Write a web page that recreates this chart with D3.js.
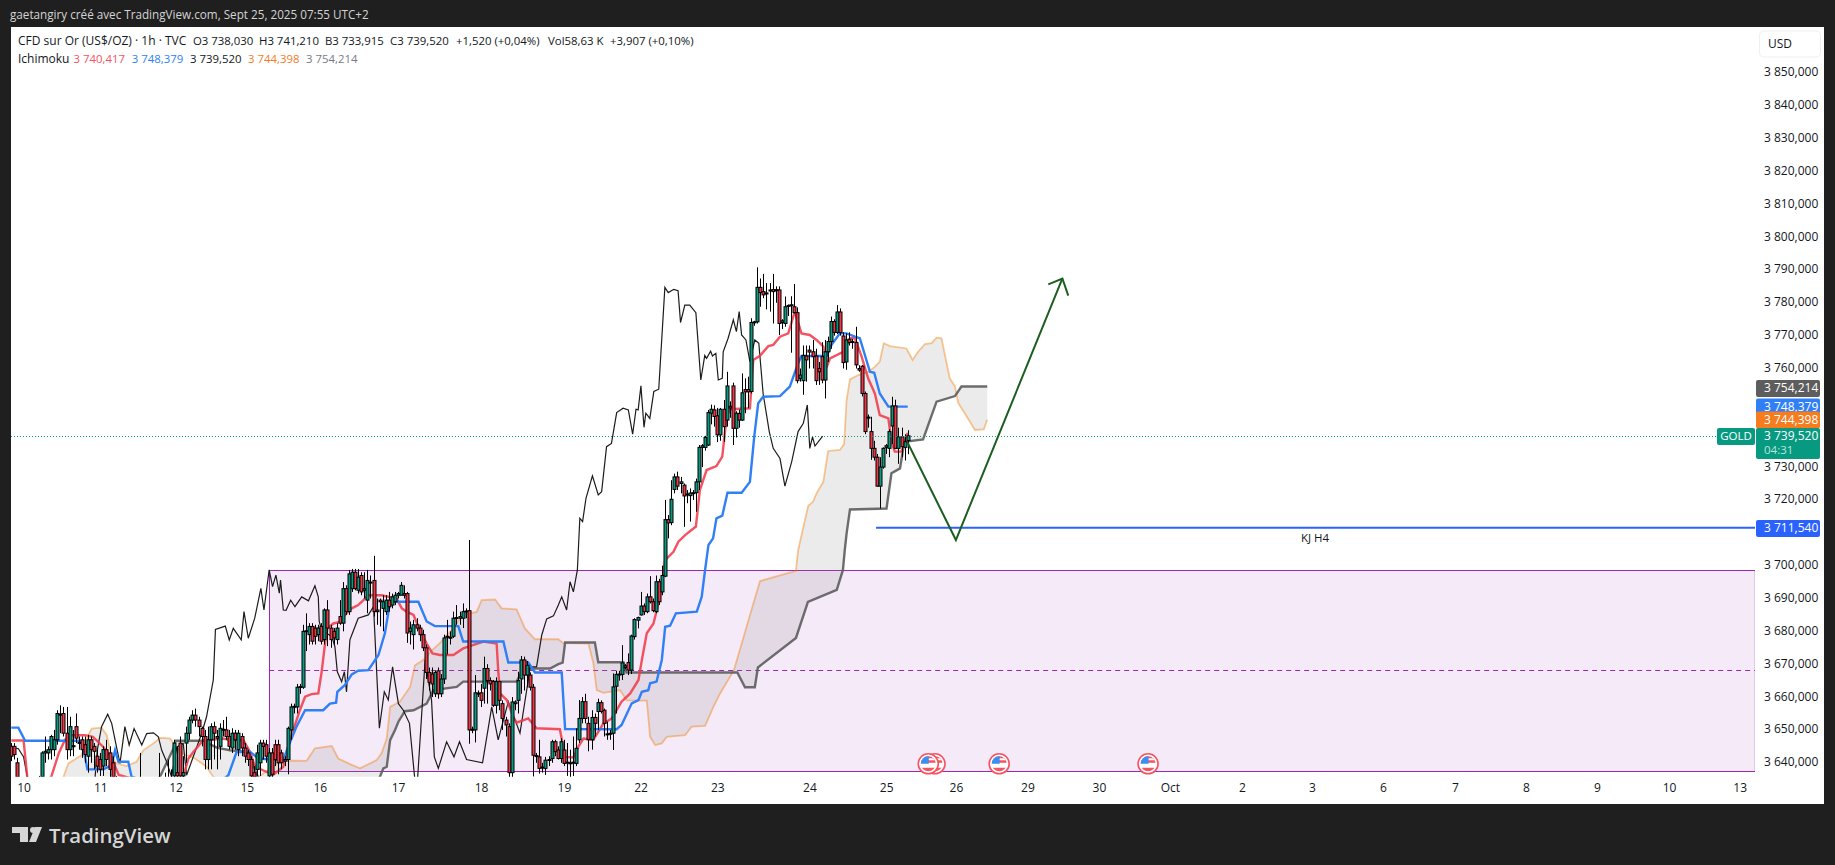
<!DOCTYPE html>
<html>
<head>
<meta charset="utf-8">
<title>CFD sur Or</title>
<script src="https://cdn.jsdelivr.net/npm/d3@7"></script>
<style>
  html, body { margin: 0; padding: 0; background: #1f1f1f; }
  svg { display: block; }
  text { font-family: "Open Sans", "Noto Sans", sans-serif; font-size: 12px; }
</style>
</head>
<body>
<svg id="chart"></svg>
<script>
// axis content, 3710 3740 3750 sit behind the price badges
const priceTicks = [3640, 3650, 3660, 3670, 3680, 3690, 3700, 3720, 3730, 3760, 3770, 3780, 3790, 3800, 3810, 3820, 3830, 3840, 3850];
const dayBars = [4, 29, 53.5, 76.7, 100.5, 126, 153, 180, 205, 230, 260, 285, 307.7, 331, 354.3, 377.4, 400.9, 423.7, 446.8, 470.3, 493.4, 516.5, 540, 563];
const dayLabels = ["10", "11", "12", "15", "16", "17", "18", "19", "22", "23", "24", "25", "26", "29", "30", "Oct", "2", "3", "6", "7", "8", "9", "10", "13"];

// hourly candles, open high low close
const ohlc = [
  [3645,3646,3640.5,3642],[3645,3646,3641,3642.5],[3640,3641.5,3633,3635],[3632,3634,3628,3630],[3630,3632,3626,3628],
  [3628,3630,3625,3629],[3629,3631,3627,3630],[3630,3632,3628,3631],[3631,3633,3629,3632],[3633,3636,3630,3635],
  // 10
  [3635,3643.5,3633,3643],[3643,3648,3640,3643.5],[3643,3645,3641,3644],[3644,3648.5,3641,3648],[3644,3650,3642,3647],
  [3647,3656,3645.5,3655],[3654.8,3657.5,3649,3654.5],[3655,3657,3648,3649],[3649,3657,3641,3644],[3644,3654,3642,3651],
  // 20
  [3645,3650,3642,3645.2],[3651,3655,3646,3647.5],[3646,3648,3644,3646.2],[3647,3648,3641.5,3644],[3645.5,3648,3640,3642.5],
  [3642,3648.5,3637,3647],[3647,3648,3640,3644],[3645,3646,3638,3643.5],[3642,3644,3637,3639],[3641,3643,3636,3638],
  // 30
  [3639,3645,3636,3644],[3644,3647,3639,3641],[3643,3645,3635,3638],[3640,3642,3632,3635],[3634,3636,3630,3632],
  [3632,3634,3629,3633],[3633,3635,3630,3631],[3631,3633,3628,3632],[3632,3634,3629,3630],[3630,3632,3627,3631],
  // 40
  [3631,3633,3628,3630],[3630,3632,3627,3631],[3633,3643,3630,3633.5],[3631,3633,3628,3630],[3630,3632,3628,3631],
  [3631,3633,3629,3630],[3630,3632,3628,3631],[3631,3634,3629,3633],[3633,3643,3631,3633.5],[3633,3635,3630,3632],
  // 50
  [3634,3637,3631,3635],[3635,3641,3632,3634],[3635,3638,3632,3635.5],[3636,3647,3634,3646],[3637,3645,3632,3636],
  [3646,3648,3633,3636],[3636,3642,3633,3637],[3646,3651,3640,3649],[3649,3654,3647,3653],[3653,3656,3652,3654.5],
  // 60
  [3654.5,3656.5,3651,3653],[3653,3654,3648,3651],[3650.5,3651,3645,3648],[3648,3650,3638,3641],[3641,3651,3638,3647],
  [3647,3652,3638,3651],[3651,3652.5,3641,3649],[3648,3650,3638,3647.5],[3645,3652,3641,3650.5],[3650,3653,3648,3650.2],
  // 70
  [3650,3654,3647,3648],[3648,3650,3644,3645],[3644.5,3650.5,3643,3649],[3649,3650,3644,3647],[3644,3650,3642,3649],
  [3648,3649,3642,3644.5],[3644.5,3646,3640,3642],[3643,3644,3639,3641],[3641,3642,3632,3636],[3637,3639,3630,3635],
  // 80
  [3638,3645.5,3636,3643],[3640,3647,3636,3646],[3646,3647,3641,3645],[3645.5,3647,3640,3642],[3636,3644.5,3635,3643],
  [3643,3644.5,3634,3636.5],[3645.5,3647,3639,3641],[3645.5,3647,3636.5,3640],[3643,3644,3638,3640],[3641,3642,3639,3640.5],
  // 90
  [3641,3651,3636.5,3650.5],[3650,3658,3647,3657],[3657,3658,3655,3657.2],[3657,3664,3655,3663],[3663,3664,3661,3663.2],
  [3663,3682,3662.5,3680],[3680,3685.5,3674,3680.2],[3679,3682.5,3676,3681.5],[3681.5,3682.5,3676,3677],[3681,3682,3676,3678.5],
  // 100
  [3679,3682,3677,3681],[3681.5,3682.5,3676,3677],[3677.5,3687,3676,3686.5],[3686.5,3689.5,3675.5,3681],[3681,3682,3675,3677.5],
  [3680,3681,3676,3678],[3677.5,3682.5,3676,3681],[3684.5,3689.5,3682,3682.5],[3682.5,3695,3680,3693],[3693,3694,3685,3686],
  // 110
  [3686,3698.7,3685,3697.5],[3693,3699,3692,3698],[3698,3699,3692.5,3693],[3692.5,3699,3691.5,3696.5],[3697,3698,3691,3692],
  [3692.5,3698,3690,3693],[3689.5,3698.7,3685.5,3695.5],[3695,3697,3690,3694.8],[3695.5,3703,3684.5,3686],[3686.5,3690,3682,3686],
  // 120
  [3689.5,3690,3681.5,3689],[3687,3691,3680,3689],[3686,3691,3685,3689.5],[3689.5,3692,3686,3687.5],[3688,3691.5,3687,3690.5],
  [3689,3692,3688,3691],[3691,3692,3690,3691.5],[3691,3695,3691,3694],[3691.5,3694,3690,3691],[3691.5,3692,3676.5,3679.5],
  // 130
  [3680,3683,3676,3681],[3679,3683.5,3674.5,3682],[3682,3684,3680,3681],[3681,3682,3677,3679],[3679,3680.5,3674,3675],
  [3675,3676,3665.5,3667.5],[3667.5,3669,3662,3664.5],[3667,3669,3660,3664],[3661,3668,3660,3667.5],[3668,3669,3659.5,3661],
  // 140
  [3661,3667,3660,3665.5],[3665.5,3679,3664,3678],[3678.5,3683.5,3673,3678.2],[3678,3680,3676,3678.2],[3678.5,3686,3678,3684],
  [3684,3688,3682,3684.2],[3684,3686,3682,3684.5],[3684,3688.5,3681,3686],[3686,3687,3684,3686.2],[3686.3,3707.8,3645.8,3650],
  // 150
  [3650,3651,3649,3650.2],[3650,3666.7,3646.2,3661.3],[3661,3662,3660,3661.2],[3661.3,3664,3657,3659],[3662.7,3672.3,3658,3668.7],
  [3668.7,3670,3658,3665],[3665,3666,3662,3664],[3664.7,3665.2,3657,3657.5],[3657.5,3666,3655,3664.7],[3664.7,3665,3656,3659],
  // 160
  [3658,3659,3650,3653.5],[3653,3654,3648,3651.5],[3651,3652,3633,3637],[3637,3660,3633,3658.5],[3658,3659,3656,3658.5],
  [3659,3667.7,3655,3665],[3665.5,3672.5,3661,3671.3],[3671.3,3672.3,3662,3666.7],[3666.7,3671,3663,3669.7],[3666.7,3667.5,3662,3663],
  // 170
  [3663,3664,3635.8,3642.3],[3642,3643,3640,3642.2],[3641.8,3647,3636.7,3638.3],[3638.5,3640,3637,3638.7],[3638.3,3641.8,3636.3,3640.8],
  [3640.8,3642,3639,3641],[3641.3,3647,3640,3646.4],[3646.4,3647,3642,3643.4],[3643.9,3645,3641,3641.3],[3641.3,3647.5,3640,3646.4],
  // 180
  [3643.9,3647,3639,3639.8],[3640,3646,3636,3640.2],[3640,3644,3635,3640],[3640,3648,3636,3640.2],[3639.8,3650.5,3639,3644.4],
  [3647,3659.1,3646,3653.5],[3653.5,3660,3652,3658.6],[3658.6,3661,3652,3653.5],[3652,3654,3643.5,3647],[3647,3656,3644,3653.8],
  // 190
  [3653.8,3655,3648,3652],[3655.6,3659.5,3650,3658.3],[3658.3,3659,3655,3655.6],[3656,3656.5,3648,3652],[3648.6,3652.5,3647,3648.8],
  [3648.8,3650,3647,3649],[3649,3667.2,3643.9,3663.1],[3663.3,3668,3655,3666.9],[3666.9,3668,3665,3667],[3666.9,3675.8,3665.2,3670.4],
  // 200
  [3669,3670,3668.5,3669.5],[3670.5,3673.3,3666.7,3668.2],[3668.2,3679,3667,3678.6],[3678.4,3684,3677.5,3683.6],[3683.4,3684.5,3680.9,3684.2],
  [3685,3692,3684.8,3687.7],[3687.7,3688.5,3685,3686],[3686,3691.5,3685.5,3690.5],[3690.5,3696.8,3688.5,3689],[3689,3690,3685.8,3686.3],
  // 210
  [3686,3697,3685.5,3695.1],[3695.1,3696,3688,3689],[3692,3700,3691,3697],[3696.8,3720,3696.5,3714],[3714,3715.4,3708.3,3713],
  [3713.1,3726,3712.3,3720.2],[3723.2,3728,3722,3727],[3727,3728.6,3723,3724.2],[3725,3727,3722,3725.5],[3724.5,3725,3711.8,3721.2],
  // 220
  [3721.5,3723,3719,3721.8],[3721.3,3723.5,3713.4,3722.1],[3722,3723,3720,3722.2],[3722.2,3726.5,3716.4,3725.5],[3725.5,3736.7,3723,3736],
  [3736,3737,3730,3736.5],[3736,3739.5,3735,3739],[3736.7,3747.4,3736.4,3746.6],[3746.4,3749,3743,3747.6],[3747.4,3748.8,3742.3,3745.4],
  // 230
  [3745.6,3748,3737.6,3739.8],[3739.8,3748,3738,3747.6],[3747.6,3750.4,3737.7,3742.3],[3744.3,3759,3742.3,3754.7],[3748,3750,3745,3748.5],
  [3754.7,3755.7,3736.7,3741.8],[3741.8,3747,3739,3746.4],[3746.3,3747.5,3742,3744.3],[3744.3,3758.5,3744,3752.6],[3753.6,3757,3746.4,3752.9],
  // 240
  [3753.6,3757.5,3747.9,3752.9],[3753,3775.3,3752.4,3774],[3774,3774.5,3773,3774.2],[3774.2,3790.8,3773.7,3784.7],[3784.7,3787.4,3778.8,3783.1],
  [3783.4,3788.8,3781.4,3782.4],[3783,3786,3778,3783],[3783.6,3786,3777.3,3783.9],[3784,3788.8,3773.7,3783.4],[3784,3785,3780,3783.9],
  // 250
  [3783.9,3785,3770.2,3773.7],[3774,3775,3772,3774.5],[3773.7,3781.9,3772.7,3778.8],[3779,3779.5,3776,3779.2],[3779.4,3782,3764.8,3779.3],
  [3778.8,3785.7,3776.7,3777],[3777,3778.6,3755.5,3756.3],[3757,3760,3756,3758],[3756.3,3767,3752,3764],[3763.8,3767,3756,3762.6],
  // 260
  [3765.6,3767,3760,3765],[3765.1,3768.7,3760,3763.6],[3763.8,3766,3755,3756.3],[3760,3762,3755,3759],[3763.6,3768,3755.5,3756.5],
  [3756.5,3768.7,3750.9,3765.1],[3765.1,3769.7,3762,3768.2],[3768.2,3775.8,3766,3774.3],[3774.3,3775,3770,3771],[3771,3779.3,3770.5,3777.2],
  // 270
  [3777.2,3778.3,3770,3770.9],[3769.9,3771,3760,3761.8],[3762,3770.7,3759.6,3768.7],[3768.9,3771,3767,3767.9],[3768,3769,3766,3768.2],
  [3767.9,3772.7,3760,3761.1],[3760,3761,3759,3759.5],[3760.7,3761,3751.5,3752.4],[3752.4,3753,3740,3740.8],[3745,3746,3742,3745.2],
  // 280
  [3740.8,3745.3,3732.2,3735.7],[3735.7,3738,3732,3733],[3733,3734,3724,3724.2],[3724.2,3733,3717.4,3730],[3730,3736,3729.5,3735.7],
  [3736,3737,3734,3736.5],[3735.7,3741.5,3733,3740.8],[3742.5,3751.4,3737,3748.6],[3748.6,3750.5,3735.5,3735.7],[3735.7,3742,3731,3739.2],
  // 290
  [3739.2,3742,3733,3736.2],[3736,3740,3732,3737.7],[3738.03,3741.21,3733.915,3739.52]
];

// ichimoku lines, [bar, price]
const tenkan = [[0,3646.8],[4,3646.8],[5.2,3635.7],[7,3630],[13,3635.7],[15.5,3643],[17.5,3647],[19.5,3648.4],[24,3648.4],[26.6,3647.9],[29.9,3644.9],[32.4,3642],[35,3636.3],[40,3635],[50,3630],[56,3635.7],[57.7,3641.3],[59.3,3643.3],[62.5,3646.9],[64.7,3646.9],[69,3647.4],[71.2,3646.9],[75.6,3646.9],[77.8,3643.3],[79.4,3638.8],[85.3,3636.3],[88.6,3638.8],[90.2,3644.9],[91.9,3650],[94,3656],[95.7,3660.1],[97.8,3660.9],[100,3661.1],[101.1,3667.7],[102.2,3676.3],[103,3680.9],[104.9,3682.4],[107.1,3682.9],[108.7,3685],[110.9,3687],[113,3688],[114.7,3689.5],[116.3,3691],[120.6,3691],[125.5,3690],[127.2,3687],[128.8,3686],[131,3685],[133.1,3680.4],[135.3,3676.3],[137.2,3673.3],[139.6,3672.8],[144,3672.8],[147.2,3674.8],[153.8,3676.9],[158.1,3676.3],[158.6,3668.2],[159.2,3661.1],[161.4,3659.1],[163.5,3654],[164.6,3652.2],[168.4,3653.5],[171.1,3650.5],[178.7,3650.2],[180.4,3641.8],[183.1,3641.6],[184.7,3644.9],[186.4,3647.4],[189.6,3647],[192.9,3652],[195.6,3653.5],[198.8,3658.6],[201.6,3661.1],[204.3,3665.2],[205.4,3671.3],[207,3679.4],[209.2,3682.4],[211.3,3690.6],[213,3701.7],[215.7,3704.2],[217.3,3707.3],[219.5,3709.3],[223,3711.9],[224.3,3723],[226.5,3729.1],[229.7,3730.3],[231.6,3733.2],[233,3745.3],[234.1,3747.6],[240.6,3747.9],[241.7,3762.6],[243.8,3763.8],[246.6,3766.8],[248.2,3767.2],[250.4,3769.7],[253.1,3770.7],[255.2,3777.3],[257.4,3770.7],[260.1,3770.2],[262.3,3768.7],[264.5,3766.7],[265.9,3761.1],[266.7,3763.1],[271,3765.1],[273.2,3769.2],[274.8,3769.2],[277,3763.6],[279.1,3757],[281.3,3752.4],[282.9,3745.8],[285.7,3744.8],[286.7,3737.7],[287.8,3734.7],[290,3734.7],[292,3740.4]];

const kijun = [[0,3650.7],[2.3,3650.7],[4.5,3646.7],[23,3646.7],[24.8,3638],[30,3638],[32.7,3639.3],[33.8,3643.8],[34.9,3640.3],[38.1,3640.3],[39.2,3635.7],[42,3635],[60,3628],[70.7,3636.2],[73.4,3643.3],[77.8,3643.3],[80.5,3641.3],[88.6,3640.8],[90.2,3644.9],[92.9,3651],[95.7,3656],[101.6,3656],[103.8,3658],[105.8,3658.3],[106.2,3661.6],[108.7,3663.7],[110.9,3666.9],[113,3668],[116.3,3668.2],[119.6,3672.8],[121.7,3679.4],[123.4,3689],[132.6,3689],[135.3,3683],[138,3681.6],[145.6,3681.6],[147.2,3676.9],[160.3,3676.9],[161.9,3670.5],[168.4,3670.5],[170.6,3667.5],[179.3,3667.5],[180.4,3650.3],[197.2,3650.2],[198.8,3651.5],[202.1,3658.1],[204.3,3659.1],[205.4,3661.6],[207.5,3662.1],[208.1,3664.2],[210.2,3664.7],[211.9,3671.3],[213,3681.4],[214.6,3681.7],[216.5,3685.5],[223.3,3686],[224.9,3690.5],[226,3698.7],[227.1,3706.3],[228.6,3708.3],[229.7,3714.4],[231.6,3715.2],[233.3,3722.2],[237.9,3722.2],[240.6,3725.5],[242,3739.2],[243.3,3749.4],[244.9,3751.4],[250.4,3751.6],[253.6,3754.5],[256.3,3761.6],[257.4,3763.8],[265.6,3763.8],[267.2,3767.2],[269.9,3770.7],[272.1,3770.7],[274.8,3769.7],[276.4,3769.2],[279.7,3759],[281.1,3758.7],[282.9,3752.4],[285.7,3748.4],[292,3748.4]];

const chikou = [[0.1,3644.8],[2.3,3644.3],[4,3641.8],[5.2,3635.7],[8,3628],[24,3628],[27.3,3635.7],[28,3643.8],[29.4,3651],[31.4,3654.8],[32.7,3652],[34.5,3643.8],[35.4,3639.8],[37,3651],[38.4,3645.4],[40,3650.4],[42.5,3645.4],[44.1,3648.9],[46.3,3649.1],[47.9,3647.9],[49,3643.8],[50.6,3640.3],[52.2,3635.7],[53.9,3644.8],[56,3645.9],[57.1,3636.2],[62,3648.9],[63.6,3654],[65.8,3665.2],[66.5,3680.6],[69.7,3681.6],[71,3677.4],[72.3,3680.9],[74.9,3677.4],[75.8,3686],[77.2,3677.9],[79.3,3684],[81.3,3693.1],[82.3,3686.5],[84,3698.7],[85.1,3693.6],[86.2,3697.1],[87.3,3691.6],[87.7,3695.6],[88.6,3686.5],[89.5,3686.4],[91,3689.5],[92.4,3687.5],[94.6,3690.5],[96.8,3689.3],[98.9,3693.9],[100,3690.5],[100.3,3683],[101.1,3680.4],[104.4,3678.4],[105.4,3675.4],[106.2,3667.7],[107.6,3664.7],[108.5,3667.7],[109.2,3661.6],[110.3,3677.4],[110.9,3678.9],[113,3684],[116.3,3685],[118,3687.5],[119.9,3650.5],[121.5,3661.6],[122.8,3659.1],[124.2,3669.2],[126.1,3658],[127.7,3656],[129.7,3652],[131.2,3637.3],[132,3630],[134.8,3671.3],[136.9,3659],[137.8,3641.8],[139.1,3638.3],[141.8,3646.4],[144.2,3641.8],[146,3646.4],[148.3,3641],[153.5,3640],[156.5,3657],[158.6,3647],[161.9,3658.6],[165.7,3649],[168.4,3665.2],[169,3669.2],[171.1,3669.2],[172.8,3678.9],[174.4,3683.8],[176.6,3684.7],[178.2,3688],[179.3,3690.5],[180.9,3686.5],[182,3695.1],[183.1,3692],[184.4,3698.7],[185.2,3714.4],[186.1,3713.4],[187.2,3720.5],[189.3,3727.3],[191.2,3721.5],[192.3,3722.5],[193.9,3736.2],[195.5,3737.2],[197.2,3746.6],[199.3,3747.9],[201,3747.4],[202.4,3740],[203.5,3747.6],[204.2,3747.4],[205.1,3754.7],[206.1,3742.1],[206.7,3746.4],[208,3744.8],[209.3,3753],[210.9,3753.7],[212.9,3784.7],[214,3783.1],[215.8,3784.1],[217.2,3783.7],[218,3774],[219.4,3779.3],[221,3779.3],[223,3777],[224.6,3756.5],[225.9,3764],[226.5,3763.1],[227.8,3765.3],[228.4,3763.8],[229.5,3764.6],[230.3,3756.5],[231.6,3757],[231.9,3765.1],[233.5,3769.2],[235.2,3774.8],[236.2,3771.2],[237.1,3777.3],[237.9,3770.2],[239.3,3768.7],[240.6,3762.1],[242.2,3768.7],[243.5,3767.7],[244.9,3752.4],[246.9,3740.8],[248.2,3735.7],[250.4,3732.6],[252,3724.2],[254.2,3731.6],[256.3,3740.8],[258,3743.3],[259.3,3748.9],[260.1,3735.7],[261,3739.2],[261.8,3736.4],[264.3,3739.4]];

const spanA = [[0,3625],[14,3628],[17,3635.7],[18.6,3639.8],[22.9,3642.3],[25.1,3648.4],[26.2,3650.4],[29.4,3650.7],[31.1,3648.4],[32.7,3641.8],[34.3,3639.8],[37.6,3639],[40.8,3640.3],[43,3643.8],[46.3,3645.9],[48.4,3647.6],[51.7,3647.4],[55,3643.3],[57.1,3642.3],[59.8,3641.3],[63.6,3638.8],[65.8,3635.7],[75,3632],[88,3640.7],[96.2,3640.6],[98.9,3644.4],[104.4,3645.1],[106.5,3641.3],[110.3,3639.6],[113.6,3638.3],[119,3640.8],[120.6,3642.9],[122.3,3647.4],[123.4,3657],[126.6,3658.6],[129.9,3663.1],[131.5,3669.7],[134.2,3671.3],[136.4,3673.7],[139.6,3676.4],[144,3680.9],[146.7,3684.9],[151.6,3685.9],[153.2,3689.5],[157.6,3689.7],[159.7,3687],[164.6,3686.7],[167.3,3680.9],[170.6,3677.6],[178.2,3677.6],[179.8,3676.4],[188,3676.3],[189.6,3670.3],[190.7,3662.1],[192.9,3661.3],[198.3,3662.1],[200.5,3659],[207,3658.9],[208.1,3647.9],[209.7,3645.4],[211.9,3645.9],[213.5,3647.9],[219.5,3648.4],[221.6,3651],[226,3651.2],[228.7,3657],[230.9,3661.1],[235.4,3668.2],[241.3,3687.1],[243.9,3695.3],[255.6,3698.4],[256.3,3704.7],[259.6,3718.2],[261.2,3719.5],[262.3,3722],[264.5,3725.5],[266.1,3734.9],[269.9,3735.2],[271.3,3737],[272.1,3750.4],[273.2,3756.7],[275.9,3758],[279.1,3759],[281.3,3760.5],[282.9,3762.1],[284.2,3767.7],[286.2,3766.8],[291.6,3766.1],[293.6,3762.6],[295.4,3765.1],[297.6,3767.4],[299.8,3767.7],[301.4,3769.4],[303,3769.2],[305.7,3757],[307.4,3754.5],[308.5,3749.4],[310.6,3746.4],[313.9,3741.3],[316.8,3741.5],[317.9,3744.4]];

const spanB = [[0,3625],[45,3628],[48.4,3635.7],[52.8,3644.3],[53.5,3646.7],[62.5,3646.7],[66.9,3644.6],[71.2,3643.8],[77.2,3643.3],[79.4,3638],[81,3634],[82,3630],[118,3630],[120.1,3635.8],[121.2,3638.3],[122.3,3638.8],[123.4,3646.9],[125,3650],[126.1,3652.5],[128.2,3655.7],[131,3656],[135.3,3658],[137.5,3662.1],[145.1,3663.1],[147.2,3664.7],[164.6,3664.7],[166.8,3668.7],[175.5,3668.7],[178.2,3670],[179.6,3670.5],[180.4,3676.6],[190.1,3676.6],[191.2,3670.6],[199.4,3670.6],[200.4,3667.5],[236.5,3667.5],[239,3663],[242.2,3663],[243.2,3669],[255.6,3678],[259.5,3689],[268.9,3692.6],[270.9,3698.7],[271.5,3704.7],[272.1,3709.8],[273.2,3717.1],[285.1,3717.4],[286.7,3728.1],[289.5,3729.6],[290.9,3737.7],[297,3738.4],[301.4,3749.9],[307.4,3751.6],[309.5,3754.5],[317.9,3754.5]];

// drawings
const rangeTop = 3698.6, rangeMid = 3668.1, rangeBottom = 3637.5;
const rangeStartBar = 84, rangeEndBar = 568;
const kjLevel = 3711.54, kjStartBar = 281.7;
const projection = [[292, 3737.4], [307.7, 3707.8], [342.4, 3787.4]];
const arrowHead = [[337.8, 3785.6], [342.4, 3787.4], [344.3, 3782.2]];
const newsBars = [300.9, 298.7, 321.8, 370.3];
const newsPrice = 3639.7;
const lastClose = 3739.52;

// legend rows
const headerText = "gaetangiry créé avec TradingView.com, Sept 25, 2025 07:55 UTC+2";
const quoteRow = [
  ["CFD sur Or (US$/OZ) · 1h · TVC", 18], ["O3 738,030", 193], ["H3 741,210", 259], ["B3 733,915", 325],
  ["C3 739,520", 390], ["+1,520 (+0,04%)", 456], ["Vol58,63 K", 548], ["+3,907 (+0,10%)", 610]
];
const ichimokuRow = [
  ["Ichimoku", 18, "#131722"], ["3 740,417", 73.5, "#f7525f"], ["3 748,379", 131.7, "#2f7ff7"],
  ["3 739,520", 190, "#131722"], ["3 744,398", 248, "#f57c1f"], ["3 754,214", 306, "#787b86"]
];

const width = 1835, height = 865;
const paneLeft = 11, paneTop = 27, paneRight = 1755, paneBottom = 776.7;

const svg = d3.select("#chart").attr("width", width).attr("height", height);

// 1 bar = 3.07px, last candle sits at x=907.7
const xScale = d3.scaleLinear([0, 292], [11.3, 907.7]);
const yScale = d3.scaleLinear([3760, 3637.5], [368.5, 771]);
const crisp = v => Math.round(v) + 0.5;

svg.append("rect").attr("width", width).attr("height", height).attr("fill", "#1f1f1f");
svg.append("rect").attr("x", paneLeft).attr("y", paneTop)
  .attr("width", 1824 - paneLeft).attr("height", 804 - paneTop).attr("fill", "#fff");

svg.append("defs").append("clipPath").attr("id", "pane").append("rect")
  .attr("x", paneLeft).attr("y", paneTop)
  .attr("width", paneRight - paneLeft).attr("height", paneBottom - paneTop);

const pane = svg.append("g").attr("clip-path", "url(#pane)");

// purple range
pane.append("rect")
  .attr("x", crisp(xScale(rangeStartBar))).attr("y", crisp(yScale(rangeTop)))
  .attr("width", xScale(rangeEndBar) - xScale(rangeStartBar))
  .attr("height", Math.round(yScale(rangeBottom) - yScale(rangeTop)))
  .attr("fill", "#f5eaf8").attr("stroke", "#9c27b0").attr("stroke-width", 1);
pane.append("line")
  .attr("x1", xScale(rangeStartBar)).attr("x2", xScale(rangeEndBar))
  .attr("y1", crisp(yScale(rangeMid))).attr("y2", crisp(yScale(rangeMid)))
  .attr("stroke", "#9c27b0").attr("stroke-dasharray", "5 4");

const line = d3.line().x(d => xScale(d[0])).y(d => yScale(d[1]));

// cloud is one closed shape, evenodd keeps both lobes where the spans cross
pane.append("path")
  .attr("d", line(spanA.concat(spanB.slice().reverse())) + "Z")
  .attr("fill", "#787878").attr("fill-opacity", 0.15).attr("fill-rule", "evenodd");

pane.append("path").attr("d", line(spanA)).attr("fill", "none")
  .attr("stroke", "#f57c00").attr("stroke-opacity", 0.42).attr("stroke-width", 1.8);
pane.append("path").attr("d", line(spanB)).attr("fill", "none")
  .attr("stroke", "#5d5d5d").attr("stroke-opacity", 0.9).attr("stroke-width", 2.4);
pane.append("path").attr("d", line(chikou)).attr("fill", "none")
  .attr("stroke", "#1c1c1c").attr("stroke-width", 1.2);
pane.append("path").attr("d", line(tenkan)).attr("fill", "none")
  .attr("stroke", "#f23645").attr("stroke-opacity", 0.85).attr("stroke-width", 2.4);
pane.append("path").attr("d", line(kijun)).attr("fill", "none")
  .attr("stroke", "#2f7ff7").attr("stroke-width", 2.4);

// candles
const candle = pane.append("g").selectAll("g").data(ohlc).join("g")
  .attr("transform", (d, i) => `translate(${crisp(xScale(i))},0)`);
candle.append("line")
  .attr("y1", d => yScale(d[1])).attr("y2", d => yScale(d[2]))
  .attr("stroke", "#000").attr("stroke-width", 1);
candle.append("rect")
  .attr("x", -1.5).attr("width", 3)
  .attr("y", d => yScale(Math.max(d[0], d[3])))
  .attr("height", d => Math.max(1, Math.abs(yScale(d[0]) - yScale(d[3]))))
  .attr("fill", d => d[3] >= d[0] ? "#089981" : "#f23645")
  .attr("stroke", "#000").attr("stroke-width", 1);

// last price dots
pane.append("line")
  .attr("x1", paneLeft).attr("x2", 1716)
  .attr("y1", crisp(yScale(lastClose))).attr("y2", crisp(yScale(lastClose)))
  .attr("stroke", "#089981").attr("stroke-dasharray", "1 2");

// KJ H4 level
pane.append("line")
  .attr("x1", xScale(kjStartBar)).attr("x2", paneRight)
  .attr("y1", yScale(kjLevel)).attr("y2", yScale(kjLevel))
  .attr("stroke", "#2962ff").attr("stroke-width", 2);
pane.append("text").attr("x", 1315).attr("y", yScale(kjLevel) + 14)
  .attr("text-anchor", "middle").attr("fill", "#131722").style("font-size", "11.5px").text("KJ H4");

// green projection
pane.append("path").attr("d", line(projection)).attr("fill", "none")
  .attr("stroke", "#1b5e20").attr("stroke-width", 2);
pane.append("path").attr("d", line(arrowHead)).attr("fill", "none")
  .attr("stroke", "#1b5e20").attr("stroke-width", 2);

// news flags
svg.select("defs").append("clipPath").attr("id", "flagDisc").append("circle").attr("r", 7.5);
const flag = svg.append("g").selectAll("g").data(newsBars).join("g")
  .attr("transform", d => `translate(${xScale(d)},${yScale(newsPrice)})`);
flag.append("circle").attr("r", 10).attr("fill", "#fff").attr("stroke", "#f7525f").attr("stroke-width", 1.6);
const flagInner = flag.append("g").attr("clip-path", "url(#flagDisc)");
flagInner.append("rect").attr("x", -8).attr("y", -8).attr("width", 16).attr("height", 7).attr("fill", "#f7525f");
flagInner.append("rect").attr("x", -8).attr("y", -5.5).attr("width", 16).attr("height", 2).attr("fill", "#fff");
flagInner.append("rect").attr("x", -8).attr("y", 0).attr("width", 16).attr("height", 3).attr("fill", "#fff");
flagInner.append("rect").attr("x", -8).attr("y", 4).attr("width", 16).attr("height", 4).attr("fill", "#f7525f");
flagInner.append("rect").attr("x", -8).attr("y", -8).attr("width", 8.5).attr("height", 8).attr("fill", "#3b8ff0");

// axes
const formatPrice = v => {
  const s = d3.format(".3f")(v).replace(".", ",");
  return s[0] + " " + s.slice(1);
};

const yAxis = svg.append("g").attr("transform", "translate(1764,0)")
  .call(d3.axisRight(yScale).tickValues(priceTicks).tickFormat(formatPrice).tickSize(0).tickPadding(0));
yAxis.select(".domain").remove();
yAxis.selectAll("text").attr("dy", "0.25em").attr("fill", "#131722").style("font-size", "12px")
  .style("font-family", '"Open Sans", sans-serif');

const xAxis = svg.append("g").attr("transform", `translate(0,${paneBottom})`)
  .call(d3.axisBottom(xScale).tickValues(dayBars).tickFormat((d, i) => dayLabels[i]).tickSize(0).tickPadding(7));
xAxis.select(".domain").remove();
xAxis.selectAll("text").attr("fill", "#131722").style("font-size", "12px")
  .style("font-family", '"Open Sans", sans-serif');

// USD button
svg.append("rect").attr("x", 1759.5).attr("y", 31).attr("width", 61).attr("height", 26).attr("rx", 4)
  .attr("fill", "#fff").attr("stroke", "#f0f0f0");
svg.append("text").attr("x", 1768).attr("y", 48).attr("fill", "#131722").text("USD");

// price badges, stacked like the reference
function badge(value, fill, h, y0) {
  svg.append("rect").attr("x", 1756).attr("y", y0).attr("width", 64).attr("height", h).attr("rx", 2).attr("fill", fill);
  svg.append("text").attr("x", 1764).attr("y", yScale(value) + 4).attr("fill", "#fff")
    .style("font-size", "12px").text(formatPrice(value));
}
badge(3754.214, "#5d5d5d", 17, 380);
badge(3748.379, "#2f7ff7", 17, 398.5);
badge(3744.398, "#f57c1f", 17, 411.5);
badge(lastClose, "#089981", 31, 428);
svg.append("text").attr("x", 1764).attr("y", 453.5).attr("fill", "#b5e6dc").style("font-size", "11.5px").text("04:31");
badge(kjLevel, "#2962ff", 17, 520);

svg.append("rect").attr("x", 1717).attr("y", 428).attr("width", 38).attr("height", 17).attr("rx", 2).attr("fill", "#089981");
svg.append("text").attr("x", 1736).attr("y", yScale(lastClose) + 4.5).attr("text-anchor", "middle")
  .attr("fill", "#fff").style("font-size", "11.5px").text("GOLD");

// header and legend
svg.append("text").attr("x", 10).attr("y", 19).attr("fill", "#d4d4d4").style("font-size", "11.7px").text(headerText);

svg.append("g").selectAll("text").data(quoteRow).join("text")
  .attr("x", d => d[1]).attr("y", 45).attr("fill", "#131722")
  .style("font-size", (d, i) => i === 0 ? "12px" : "11.4px").text(d => d[0]);
svg.append("g").selectAll("text").data(ichimokuRow).join("text")
  .attr("x", d => d[1]).attr("y", 63).attr("fill", d => d[2])
  .style("font-size", (d, i) => i === 0 ? "12px" : "11.4px").text(d => d[0]);

// TradingView logo
const logo = svg.append("g").attr("fill", "#d6d6d6");
logo.append("path").attr("d", "M12 827H28V842H20V833H12Z");
logo.append("circle").attr("cx", 33).attr("cy", 830).attr("r", 3);
logo.append("path").attr("d", "M35 827H42L36 842H29Z");
svg.append("text").attr("x", 49).attr("y", 843).attr("fill", "#d6d6d6")
  .style("font-size", "20.4px").style("font-weight", 600).text("TradingView");
</script>
</body>
</html>
